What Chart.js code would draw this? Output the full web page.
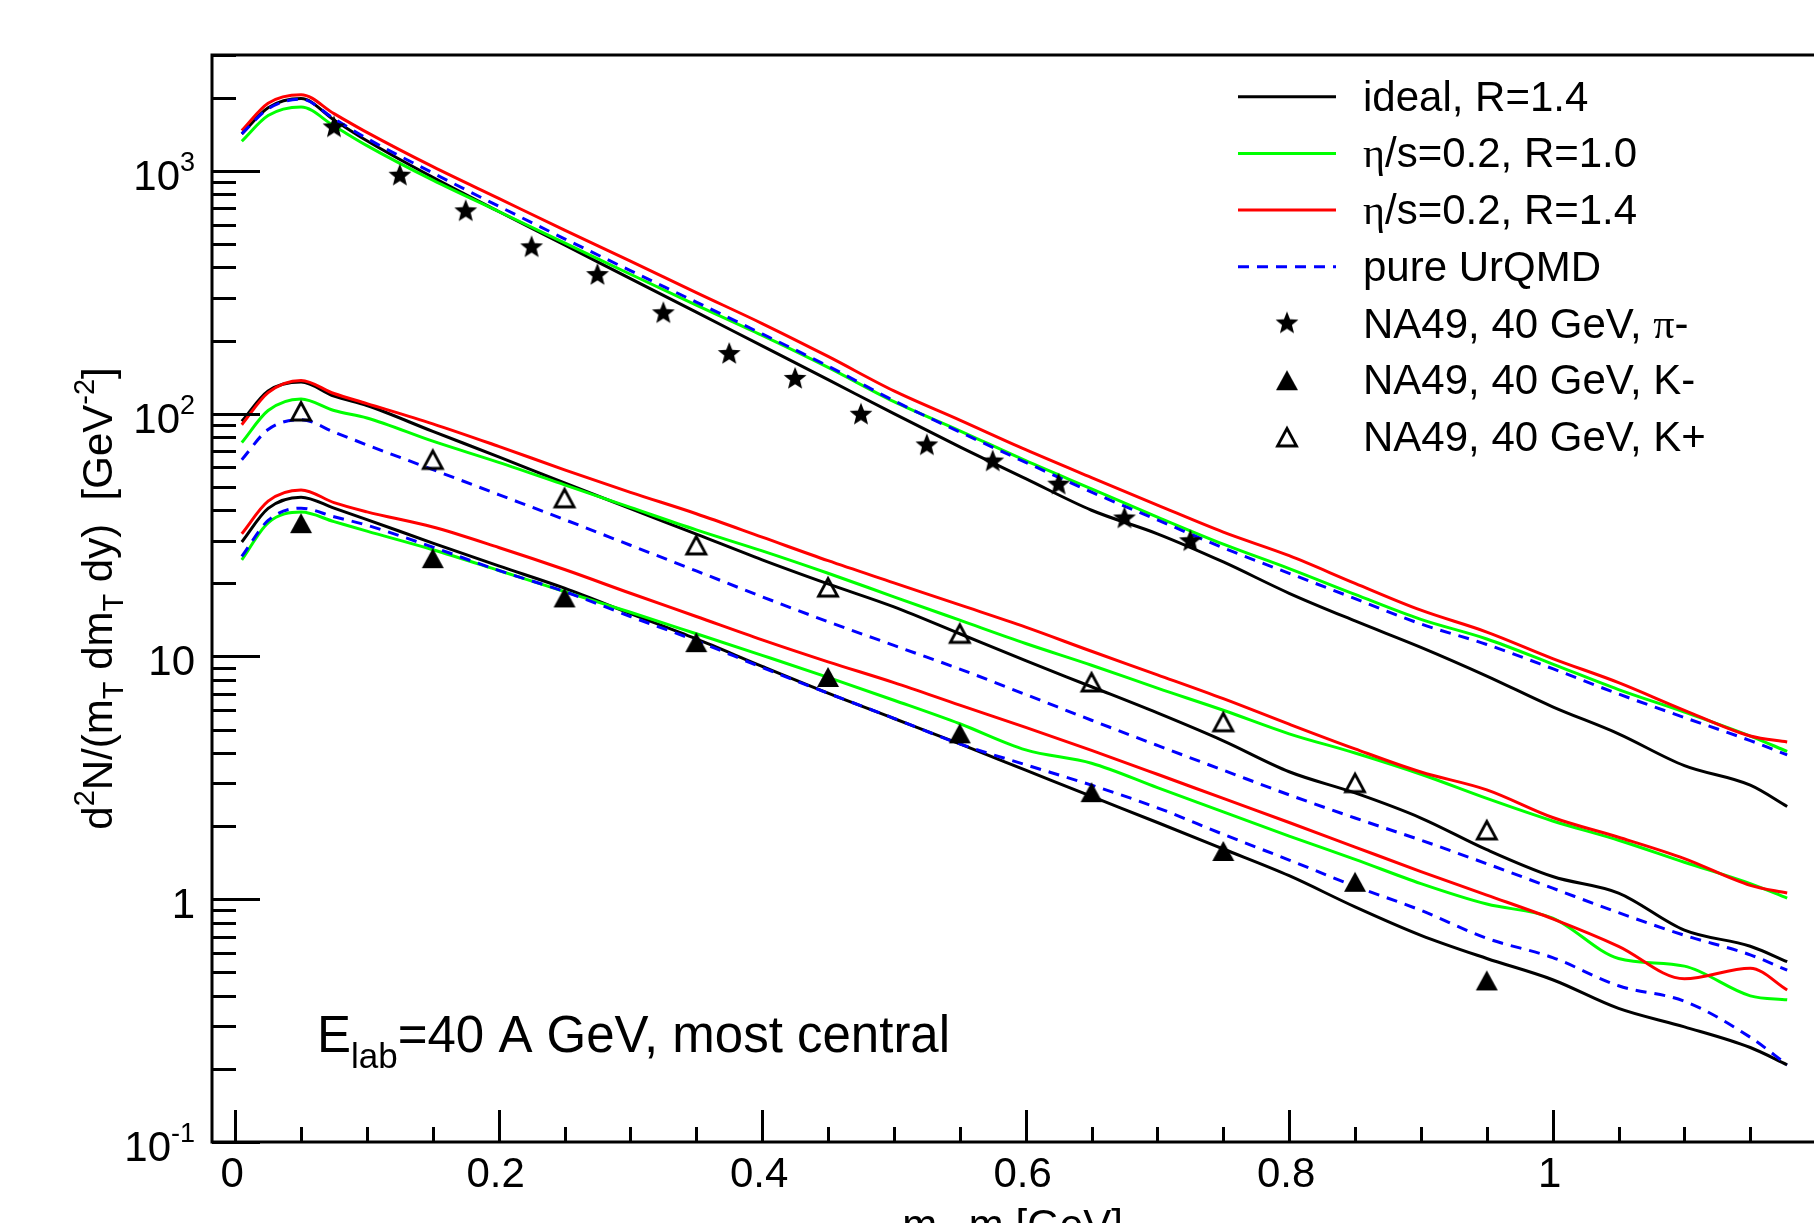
<!DOCTYPE html>
<html>
<head>
<meta charset="utf-8">
<script src="https://cdn.jsdelivr.net/npm/chart.js@4.4.1/dist/chart.umd.min.js"></script>
<style>
  html, body { margin: 0; padding: 0; background: #fff; overflow: hidden; }
</style>
</head>
<body>
<canvas id="spectra" width="1814" height="1223"></canvas>
<script>
// m_T - m grid where the model curves are sampled [GeV]
const mtGrid = [0.005, 0.025, 0.05, 0.075, 0.1, 0.15, 0.2, 0.25, 0.3, 0.35, 0.4, 0.45, 0.5, 0.55,
  0.6, 0.65, 0.7, 0.75, 0.8, 0.85, 0.9, 0.95, 1.0, 1.05, 1.1, 1.15, 1.178];

// pi- curves
const piIdeal  = [1420, 1820, 1985, 1620, 1330, 940, 680, 495, 360, 262, 190, 138, 100, 73, 54, 40, 32, 24.5, 18.2, 14, 10.9, 8.3, 6.2, 4.8, 3.55, 2.95, 2.41];
const piVisc10 = [1324, 1690, 1833, 1530, 1270, 915, 680, 505, 375, 280, 210, 155, 112, 85, 64, 49, 37.5, 29, 23, 18, 14.2, 11.8, 9.3, 7.3, 5.9, 4.7, 4.06];
const piVisc14 = [1465, 1900, 2060, 1720, 1440, 1040, 770, 570, 425, 315, 235, 172, 124, 94, 71, 54.5, 42, 32.5, 26, 20, 15.5, 12.6, 9.8, 7.8, 6.0, 4.7, 4.44];
const piUrqmd  = [1420, 1800, 1975, 1640, 1360, 980, 715, 525, 388, 288, 213, 157, 113, 84, 63, 47.5, 36.5, 28, 22, 17.3, 13.6, 11.2, 8.9, 7.0, 5.6, 4.5, 3.93];

// K+ curves
const kpIdeal  = [93, 124, 135, 118, 108, 84.5, 66.4, 51.8, 40.6, 31.9, 25, 19.9, 16, 12.4, 9.6, 7.5, 5.85, 4.49, 3.35, 2.74, 2.16, 1.6, 1.24, 1.06, 0.746, 0.64, 0.553];
const kpVisc10 = [76, 103, 115, 103, 96, 77, 63, 50.9, 41.1, 33.2, 27.2, 22, 17.6, 14.1, 11.3, 9.2, 7.4, 6.0, 4.8, 4.0, 3.27, 2.6, 2.1, 1.75, 1.42, 1.16, 1.01];
const kpVisc14 = [90, 122, 137, 121, 110, 90.8, 73.3, 58.7, 47.4, 38.7, 31, 24.8, 20.1, 16.3, 13.2, 10.5, 8.4, 6.7, 5.26, 4.16, 3.34, 2.82, 2.17, 1.8, 1.47, 1.14, 1.06];
const kpUrqmd  = [64.6, 86, 94.4, 84, 74.3, 58.8, 46.4, 36.6, 28.7, 22.5, 17.6, 13.9, 11.1, 8.87, 6.97, 5.46, 4.3, 3.4, 2.69, 2.16, 1.75, 1.4, 1.11, 0.88, 0.71, 0.59, 0.51];

// K- curves
const kmIdeal  = [29.6, 40.7, 45.3, 40.8, 36.6, 29.3, 23.6, 19.1, 15, 11.8, 9.1, 7.06, 5.55, 4.36, 3.4, 2.65, 2.07, 1.61, 1.25, 0.93, 0.71, 0.57, 0.466, 0.355, 0.298, 0.245, 0.208];
const kmVisc10 = [25, 35.5, 39.3, 35.9, 32.8, 27.5, 22.6, 18.5, 15.2, 12.4, 10.1, 8.2, 6.6, 5.28, 4.12, 3.63, 2.88, 2.29, 1.82, 1.46, 1.16, 0.955, 0.836, 0.57, 0.53, 0.40, 0.385];
const kmVisc14 = [32, 43.6, 48.5, 43, 39.4, 34.1, 28.1, 22.8, 18.2, 14.6, 11.7, 9.5, 7.8, 6.3, 5.1, 4.1, 3.27, 2.6, 2.07, 1.64, 1.3, 1.04, 0.83, 0.64, 0.47, 0.52, 0.423];
const kmUrqmd  = [25.8, 36.3, 40.8, 37.6, 34.7, 28.2, 22.6, 18.5, 14.6, 11.6, 9.0, 7.05, 5.56, 4.36, 3.58, 2.95, 2.38, 1.85, 1.45, 1.13, 0.90, 0.69, 0.575, 0.44, 0.38, 0.27, 0.208];

// NA49 data points
const na49PiX = [0.075, 0.125, 0.175, 0.225, 0.275, 0.325, 0.375, 0.425, 0.475, 0.525, 0.575, 0.625, 0.675, 0.725];
const na49PiY = [1510, 955, 681, 484, 372, 259, 176, 139, 99, 74, 63.5, 51, 37, 29.8];
const na49KX  = [0.05, 0.15, 0.25, 0.35, 0.45, 0.55, 0.65, 0.75, 0.85, 0.95];
const na49KmY = [35.4, 25.4, 17.5, 11.45, 8.23, 4.82, 2.76, 1.58, 1.18, 0.463];
const na49KpY = [102.5, 64.8, 45, 28.8, 19.3, 12.45, 7.85, 5.38, 3.02, 1.93];

// axes
const xTickValues = [0, 0.2, 0.4, 0.6, 0.8, 1.0];
const xTickLabels = ["0", "0.2", "0.4", "0.6", "0.8", "1"];
const yTickValues = [0.1, 1, 10, 100, 1000];
const yTickLabels = [["10", "-1"], ["1", ""], ["10", ""], ["10", "2"], ["10", "3"]];

const FONT = '"Liberation Sans", Arial, Helvetica, sans-serif';
const SERIF = '"Liberation Serif", "DejaVu Serif", serif';

function pts(xs, ys) {
  return xs.map((x, i) => ({ x: x, y: ys[i] }));
}

// marker pictures (filled star, filled / open triangle)
function makeMarker(kind) {
  const c = document.createElement("canvas");
  c.width = 26;
  c.height = 26;
  const g = c.getContext("2d");
  g.translate(13, 13);
  g.fillStyle = "#000";
  g.strokeStyle = "#000";
  g.beginPath();
  if (kind === "star") {
    const R = 12, r = 5.2;
    for (let i = 0; i < 10; i++) {
      const a = -Math.PI / 2 + i * Math.PI / 5;
      const rad = i % 2 === 0 ? R : r;
      g.lineTo(Math.cos(a) * rad, Math.sin(a) * rad);
    }
    g.closePath();
    g.fill();
  } else if (kind === "full") {
    g.moveTo(0, -10);
    g.lineTo(11, 10);
    g.lineTo(-11, 10);
    g.closePath();
    g.fill();
  } else {
    g.lineWidth = 2.8;
    g.lineJoin = "miter";
    g.moveTo(0, -8.5);
    g.lineTo(9.5, 9);
    g.lineTo(-9.5, 9);
    g.closePath();
    g.stroke();
  }
  return c;
}

const starImg = makeMarker("star");
const fullTriImg = makeMarker("full");
const openTriImg = makeMarker("open");

const models = [
  { name: "ideal", color: "#000000", dash: [], series: [piIdeal, kpIdeal, kmIdeal] },
  { name: "visc10", color: "#00ff00", dash: [], series: [piVisc10, kpVisc10, kmVisc10] },
  { name: "visc14", color: "#ff0000", dash: [], series: [piVisc14, kpVisc14, kmVisc14] },
  { name: "urqmd", color: "#0000ff", dash: [11, 8], series: [piUrqmd, kpUrqmd, kmUrqmd] },
];

const datasets = [];
// markers first so they are drawn on top
datasets.push({ label: "NA49 pi-", data: pts(na49PiX, na49PiY), showLine: false, pointStyle: starImg, pointRadius: 10 });
datasets.push({ label: "NA49 K-", data: pts(na49KX, na49KmY), showLine: false, pointStyle: fullTriImg, pointRadius: 10 });
datasets.push({ label: "NA49 K+", data: pts(na49KX, na49KpY), showLine: false, pointStyle: openTriImg, pointRadius: 10 });

// curves, blue last in ROOT order -> first here
[3, 2, 1, 0].forEach(function (m) {
  models[m].series.forEach(function (ys) {
    datasets.push({
      label: models[m].name,
      data: pts(mtGrid, ys),
      borderColor: models[m].color,
      borderDash: models[m].dash,
      borderWidth: 3,
      pointRadius: 0,
      fill: false,
      cubicInterpolationMode: "monotone",
    });
  });
});

const legendRows = [
  { line: models[0], runs: [{ t: "ideal, R=1.4" }] },
  { line: models[1], runs: [{ t: "\u03b7", f: SERIF }, { t: "/s=0.2, R=1.0" }] },
  { line: models[2], runs: [{ t: "\u03b7", f: SERIF }, { t: "/s=0.2, R=1.4" }] },
  { line: models[3], runs: [{ t: "pure UrQMD" }] },
  { marker: starImg, runs: [{ t: "NA49, 40 GeV, " }, { t: "\u03c0", f: SERIF }, { t: "-" }] },
  { marker: fullTriImg, runs: [{ t: "NA49, 40 GeV, K-" }] },
  { marker: openTriImg, runs: [{ t: "NA49, 40 GeV, K+" }] },
];

// text with sub/superscripts: runs of {t, s (size), dy, f (family)}
function drawRich(ctx, runs, x, y, align, size) {
  let w = 0;
  runs.forEach(function (r) {
    ctx.font = (r.s || size) + "px " + (r.f || FONT);
    w += ctx.measureText(r.t).width;
  });
  let cx = align === "right" ? x - w : align === "center" ? x - w / 2 : x;
  ctx.textAlign = "left";
  ctx.textBaseline = "alphabetic";
  ctx.fillStyle = "#000";
  runs.forEach(function (r) {
    ctx.font = (r.s || size) + "px " + (r.f || FONT);
    ctx.fillText(r.t, cx, y + (r.dy || 0));
    cx += ctx.measureText(r.t).width;
  });
}

const rootFrame = {
  id: "rootFrame",
  afterDraw(chart) {
    const ctx = chart.ctx;
    const a = chart.chartArea;
    const xs = chart.scales.x;
    const ys = chart.scales.y;
    ctx.save();
    ctx.strokeStyle = "#000";
    ctx.lineWidth = 3;
    ctx.lineCap = "butt";

    // frame
    ctx.beginPath();
    ctx.moveTo(a.right + 2, a.top);
    ctx.lineTo(a.left, a.top);
    ctx.lineTo(a.left, a.bottom);
    ctx.lineTo(a.right + 2, a.bottom);
    ctx.stroke();

    // x ticks (inside)
    ctx.beginPath();
    for (let k = 0; k * 0.05 <= xs.max + 1e-9; k++) {
      const v = k * 0.05;
      const px = Math.round(xs.getPixelForValue(v)) + 0.5;
      const len = k % 4 === 0 ? 32 : 15;
      ctx.moveTo(px, a.bottom);
      ctx.lineTo(px, a.bottom - len);
    }
    ctx.stroke();

    // y ticks (inside)
    ctx.beginPath();
    for (let e = -1; e <= 3; e++) {
      for (let m = 1; m <= 9; m++) {
        const v = m * Math.pow(10, e);
        if (v < ys.min || v > ys.max) continue;
        const py = Math.round(ys.getPixelForValue(v)) + 0.5;
        const len = m === 1 ? 48 : 24;
        ctx.moveTo(a.left, py);
        ctx.lineTo(a.left + len, py);
      }
    }
    ctx.stroke();

    // tick labels
    xTickValues.forEach(function (v, i) {
      drawRich(ctx, [{ t: xTickLabels[i] }], xs.getPixelForValue(v) - 3, a.bottom + 45, "center", 42);
    });
    yTickValues.forEach(function (v, i) {
      const lab = yTickLabels[i];
      const runs = [{ t: lab[0] }];
      if (lab[1]) runs.push({ t: lab[1], s: 27, dy: -19 });
      drawRich(ctx, runs, 195, ys.getPixelForValue(v) + 19, "right", 42);
    });

    // axis titles
    drawRich(ctx, [{ t: "m" }, { t: "T", s: 29, dy: 10 }, { t: "-m [GeV]" }],
      (a.left + a.right) / 2, 1239, "center", 42);

    ctx.save();
    ctx.translate(112, (a.top + a.bottom) / 2);
    ctx.rotate(-Math.PI / 2);
    drawRich(ctx, [
      { t: "d" }, { t: "2", s: 29, dy: -18 }, { t: "N/(m" }, { t: "T", s: 29, dy: 11 },
      { t: " dm" }, { t: "T", s: 29, dy: 11 }, { t: " dy)  [GeV" }, { t: "-2", s: 29, dy: -18 }, { t: "]" },
    ], 0, 0, "center", 42);
    ctx.restore();

    // annotation
    drawRich(ctx, [{ t: "E" }, { t: "lab", s: 35, dy: 16 }, { t: "=40 A GeV, most central" }],
      317, 1052, "left", 51);

    // legend
    legendRows.forEach(function (row, i) {
      const cy = 96.7 + 56.7 * i;
      if (row.line) {
        ctx.save();
        ctx.strokeStyle = row.line.color;
        ctx.lineWidth = 3;
        ctx.setLineDash(row.line.dash);
        ctx.beginPath();
        ctx.moveTo(1238, cy);
        ctx.lineTo(1336, cy);
        ctx.stroke();
        ctx.restore();
      } else {
        ctx.drawImage(row.marker, 1287 - row.marker.width / 2, cy - row.marker.height / 2);
      }
      drawRich(ctx, row.runs, 1363, cy + 14, "left", 42);
    });

    ctx.restore();
  },
};

new Chart(document.getElementById("spectra"), {
  type: "line",
  data: { datasets: datasets },
  options: {
    responsive: false,
    animation: false,
    devicePixelRatio: 1,
    layout: { autoPadding: false, padding: { left: 212, top: 55, right: 1, bottom: 81 } },
    scales: {
      x: { type: "linear", display: false, min: -0.0176, max: 1.1976 },
      y: { type: "logarithmic", display: false, min: 0.1, max: 3000 },
    },
    plugins: {
      legend: { display: false },
      tooltip: { enabled: false },
    },
  },
  plugins: [rootFrame],
});
</script>
</body>
</html>
